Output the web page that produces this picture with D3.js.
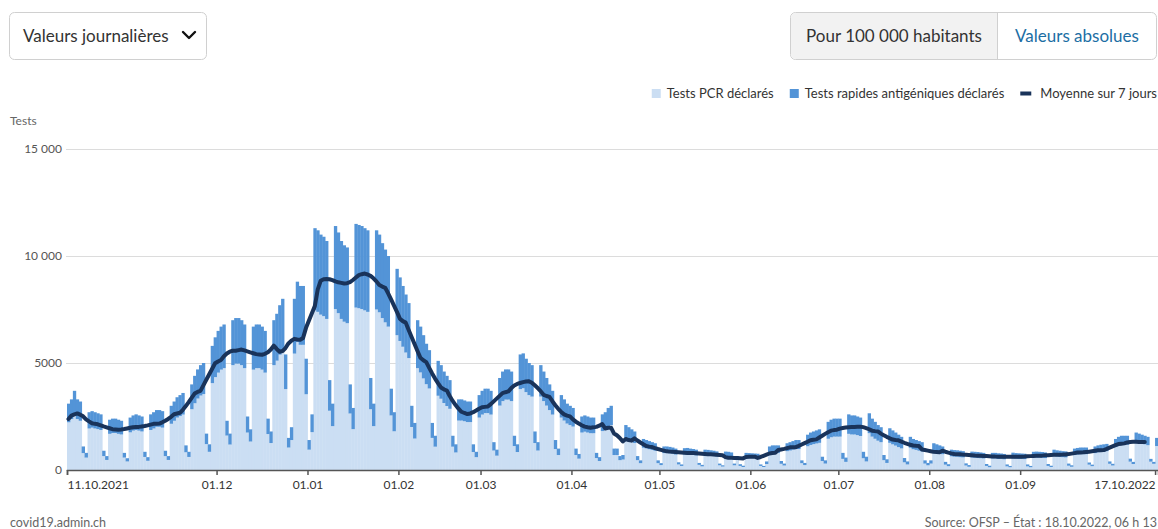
<!DOCTYPE html>
<html lang="fr">
<head>
<meta charset="utf-8">
<title>Tests</title>
<script src="https://cdn.jsdelivr.net/npm/d3@7"></script>
<style>
  body { margin: 0; background: #fff; }
  svg text { font-family: Lato, "Noto Sans", sans-serif; }
</style>
</head>
<body>
<svg id="chart" width="1158" height="529"></svg>
<script>
// daily values, 11.10.2021 -> 17.10.2022 (one line = one week, Mon..Sun)
const startDate = "2021-10-11";

const pcr = [
  2230,2380,2660,2380,2300,790,580,
  1940,1980,1940,1910,1870,650,470,
  1690,1730,1730,1690,1660,580,400,
  1760,1840,1870,1840,1800,610,430,
  1870,1940,2020,2020,1980,650,470,
  2160,2300,2450,2520,2590,830,610,
  2840,3120,3340,3480,3550,1210,850,
  4060,4340,4550,4690,4760,1610,1190,
  4900,4970,4970,4900,4760,1750,1330,
  4690,4760,4760,4690,4550,1680,1260,
  4900,5110,5390,5600,3780,1050,1400,
  5440,5980,5850,5850,3540,950,1770,
  7460,7390,7260,7190,7060,2770,2050,
  7520,7330,7060,6930,6860,2640,1910,
  7590,7560,7520,7460,7390,2840,2050,
  7500,7370,7100,6900,6700,2550,1810,
  6300,6030,5760,5490,5230,2010,1470,
  4760,4560,4280,4010,3810,1500,1090,
  3470,3330,3130,2990,2860,1090,820,
  2310,2310,2280,2240,2240,840,600,
  2450,2590,2660,2660,2590,910,670,
  3010,3220,3290,3290,3220,1120,840,
  3780,3820,3640,3500,3430,1260,910,
  3430,3220,3010,2800,2590,980,700,
  2450,2310,2170,2100,2030,700,530,
  1750,1790,1750,1720,1720,560,420,
  1820,1890,2030,2100,700,700,460,
  490,1470,1400,1330,1260,460,320,
  1040,1010,970,940,900,320,230,
  790,790,780,760,720,260,190,
  730,740,720,710,680,240,170,
  680,680,660,650,630,220,160,
  620,610,590,220,470,190,140,
  580,570,560,550,550,190,140,
  280,770,800,800,800,290,210,
  880,910,950,980,980,320,230,
  1110,1170,1210,1240,1270,420,300,
  1460,1530,1560,1560,1560,520,380,
  1690,1660,1660,1630,1590,550,400,
  1720,1560,1460,1370,1300,460,330,
  1270,1200,1140,1070,1010,360,260,
  1040,970,940,900,870,300,220,
  300,840,800,770,740,250,180,
  640,620,620,600,590,210,150,
  580,570,560,550,540,190,130,
  540,540,520,520,500,170,130,
  540,530,520,520,510,170,130,
  580,580,580,570,560,190,140,
  650,630,610,600,590,200,150,
  700,720,740,740,740,250,180,
  790,830,850,860,880,290,210,
  1070,1150,1180,1180,1180,390,280,
  1310,1280,1240,1200,1160,390,290,
  1120
];

const antigen = [
  870,920,1040,920,900,310,220,
  760,770,760,740,730,250,180,
  660,670,670,660,640,220,150,
  690,710,730,710,700,240,170,
  730,760,780,780,770,250,180,
  840,900,950,980,1010,320,240,
  1160,1280,1360,1420,1450,490,350,
  1740,1860,1950,2010,2040,690,510,
  2100,2130,2130,2100,2040,750,570,
  2010,2040,2040,2010,1950,720,540,
  2100,2190,2310,2400,1620,450,600,
  2560,2820,2750,2750,1660,450,830,
  3840,3810,3740,3710,3640,1430,1050,
  3880,3770,3640,3570,3540,1360,990,
  3910,3890,3880,3840,3810,1460,1050,
  3700,3630,3500,3400,3300,1250,890,
  3100,2970,2840,2710,2570,990,730,
  2240,2140,2020,1890,1790,700,510,
  1630,1570,1470,1410,1340,510,380,
  990,990,970,960,960,360,250,
  1050,1110,1140,1140,1110,390,280,
  1290,1380,1410,1410,1380,480,360,
  1620,1630,1560,1500,1470,540,390,
  1470,1380,1290,1200,1110,420,300,
  1050,990,930,900,870,300,220,
  750,760,750,730,730,240,180,
  780,810,870,900,300,300,190,
  210,630,600,570,540,190,130,
  410,390,380,360,350,130,90,
  310,310,300,290,280,100,70,
  290,290,280,270,270,90,70,
  270,260,260,250,240,80,60,
  240,240,230,80,180,80,60,
  220,220,220,220,210,70,50,
  120,330,350,350,350,130,90,
  370,390,400,420,420,130,100,
  540,580,590,610,630,200,150,
  790,820,840,840,840,280,200,
  910,890,890,870,860,300,220,
  930,840,790,730,700,240,170,
  680,650,610,580,540,200,140,
  510,480,460,450,430,150,110,
  150,410,400,380,360,130,90,
  310,310,300,300,290,100,80,
  280,280,280,270,260,90,70,
  260,260,260,250,250,90,60,
  270,260,260,250,250,90,60,
  270,280,270,270,260,90,60,
  300,290,290,280,280,100,70,
  300,310,310,310,310,100,70,
  310,320,330,340,340,110,80,
  380,400,420,420,420,140,100,
  440,420,410,400,390,130,90,
  380
];

// totals of 08.10 - 10.10.2021, only used for the first averages
const before = [2100, 700, 500];

const yTicks = [0, 5000, 10000, 15000];
const xTickDates = ["2021-10-11", "2021-12-01", "2022-01-01", "2022-02-01", "2022-03-01",
  "2022-04-01", "2022-05-01", "2022-06-01", "2022-07-01", "2022-08-01", "2022-09-01", "2022-10-17"];
const xTickLabels = ["11.10.2021", "01.12", "01.01", "01.02", "01.03", "01.04",
  "01.05", "01.06", "01.07", "01.08", "01.09", "17.10.2022"];

const seriesKeys = ["pcr", "antigen"];
const seriesColors = ["#cbdef3", "#5394d7"];
const lineColor = "#19335a";
const legendLabels = ["Tests PCR déclarés", "Tests rapides antigéniques déclarés", "Moyenne sur 7 jours"];

const svg = d3.select("#chart");
const n = pcr.length;
const start = d3.timeParse("%Y-%m-%d")(startDate);

const rows = pcr.map((p, i) => ({ i: i, pcr: p, antigen: antigen[i] }));
const totals = rows.map(d => d.pcr + d.antigen);

// centered 7 day mean, the last days are left out
const ext = before.concat(totals);
const avg = [];
for (let i = 0; i <= n - 5; i++) {
  avg.push({ i: i, v: d3.mean(ext.slice(i, i + 7)) });
}

const plot = { left: 67, right: 1158, top: 149, bottom: 470 };

const x = d3.scaleBand()
  .domain(d3.range(n))
  .range([plot.left, plot.right])
  .padding(0);

const xDay = d3.scaleLinear()
  .domain([0, n])
  .range([plot.left, plot.right]);

const y = d3.scaleLinear()
  .domain([0, 15000])
  .range([plot.bottom, plot.top]);

//buttons
const drop = svg.append("g");
drop.append("rect")
  .attr("x", 9.5).attr("y", 12.5)
  .attr("width", 197).attr("height", 47)
  .attr("rx", 5)
  .attr("fill", "#fff")
  .attr("stroke", "#d0d0d0");
drop.append("text")
  .attr("x", 23).attr("y", 42)
  .attr("font-size", "17px")
  .attr("fill", "#333")
  .text("Valeurs journalières");
drop.append("path")
  .attr("d", "M183,32 L189,38 L195,32")
  .attr("fill", "none")
  .attr("stroke", "#111")
  .attr("stroke-width", 2.4)
  .attr("stroke-linecap", "round")
  .attr("stroke-linejoin", "round");

const toggle = svg.append("g");
toggle.append("rect")
  .attr("x", 790.5).attr("y", 12.5)
  .attr("width", 366).attr("height", 47)
  .attr("rx", 5)
  .attr("fill", "#fff")
  .attr("stroke", "#d0d0d0");
toggle.append("path")
  .attr("d", "M997.5,13 H796 a5,5 0 0 0 -5,5 V54 a5,5 0 0 0 5,5 H997.5 Z")
  .attr("fill", "#f2f2f2");
toggle.append("line")
  .attr("x1", 997.5).attr("x2", 997.5)
  .attr("y1", 13).attr("y2", 59)
  .attr("stroke", "#d0d0d0");
toggle.append("text")
  .attr("x", 894).attr("y", 42)
  .attr("text-anchor", "middle")
  .attr("font-size", "17px")
  .attr("fill", "#333")
  .text("Pour 100 000 habitants");
toggle.append("text")
  .attr("x", 1077).attr("y", 42)
  .attr("text-anchor", "middle")
  .attr("font-size", "17px")
  .attr("fill", "#1c6ea4")
  .text("Valeurs absolues");

//legend, laid out from the right edge
const legend = svg.append("g").attr("font-size", "13px");
let lx = 1157;
for (let k = legendLabels.length - 1; k >= 0; k--) {
  const t = legend.append("text")
    .attr("y", 98)
    .attr("fill", "#333")
    .attr("text-anchor", "end")
    .attr("x", lx)
    .text(legendLabels[k]);
  const w = t.node().getComputedTextLength();
  if (k === 2) {
    legend.append("line")
      .attr("x1", lx - w - 20).attr("x2", lx - w - 9)
      .attr("y1", 93.5).attr("y2", 93.5)
      .attr("stroke", lineColor)
      .attr("stroke-width", 4);
    lx = lx - w - 20 - 16;
  } else {
    legend.append("rect")
      .attr("x", lx - w - 15).attr("y", 89)
      .attr("width", 9).attr("height", 9)
      .attr("fill", seriesColors[k]);
    lx = lx - w - 15 - 16;
  }
}

svg.append("text")
  .attr("x", 10).attr("y", 125)
  .attr("font-size", "12px")
  .attr("fill", "#666")
  .text("Tests");

//y grid + labels
const fmt = d => d >= 10000 ? d3.format(",")(d).replace(",", " ") : String(d);
const yAxis = svg.append("g")
  .attr("transform", `translate(${plot.left - 1},0)`)
  .call(d3.axisLeft(y).tickValues(yTicks).tickFormat(fmt).tickSize(-(plot.right - plot.left + 1)).tickPadding(4));
yAxis.select(".domain").remove();
yAxis.selectAll("line").attr("stroke", "#dcdcdc");
yAxis.selectAll("text")
  .attr("font-size", "12px")
  .attr("fill", "#555");

// bars
const stacked = d3.stack().keys(seriesKeys)(rows);
svg.append("g")
  .selectAll("g")
  .data(stacked)
  .enter()
  .append("g")
  .attr("fill", (d, k) => seriesColors[k])
  .selectAll("rect")
  .data(d => d)
  .enter()
  .append("rect")
  .attr("x", d => x(d.data.i))
  .attr("y", d => y(d[1]))
  .attr("width", x.bandwidth() + 0.4)
  .attr("height", d => y(d[0]) - y(d[1]));

// 7 day mean
svg.append("path")
  .datum(avg)
  .attr("fill", "none")
  .attr("stroke", lineColor)
  .attr("stroke-width", 4)
  .attr("stroke-linejoin", "round")
  .attr("stroke-linecap", "round")
  .attr("d", d3.line()
    .x(d => x(d.i) + x.bandwidth() / 2)
    .y(d => y(d.v)));

//x-axis
const tickIdx = xTickDates.map(s => d3.timeDay.count(start, d3.timeParse("%Y-%m-%d")(s)));
const xAxis = svg.append("g")
  .attr("transform", `translate(0,${plot.bottom})`)
  .call(d3.axisBottom(xDay).tickValues(tickIdx).tickFormat((d, i) => xTickLabels[i]).tickSizeOuter(0).tickSize(5).tickPadding(5));
xAxis.select(".domain").attr("stroke", "#555").attr("stroke-width", 1.5);
xAxis.selectAll("line").attr("stroke", "#555").attr("stroke-width", 1.5);
xAxis.selectAll("text")
  .attr("font-size", "12px")
  .attr("fill", "#333")
  .style("text-anchor", (d, i) => i === 0 ? "start" : (i === tickIdx.length - 1 ? "end" : "middle"));

// footer
svg.append("text")
  .attr("x", 10).attr("y", 527)
  .attr("font-size", "12.5px")
  .attr("fill", "#666")
  .text("covid19.admin.ch");
svg.append("text")
  .attr("x", 1157).attr("y", 527)
  .attr("text-anchor", "end")
  .attr("font-size", "12.5px")
  .attr("fill", "#666")
  .text("Source: OFSP – État : 18.10.2022, 06 h 13");
</script>
</body>
</html>
